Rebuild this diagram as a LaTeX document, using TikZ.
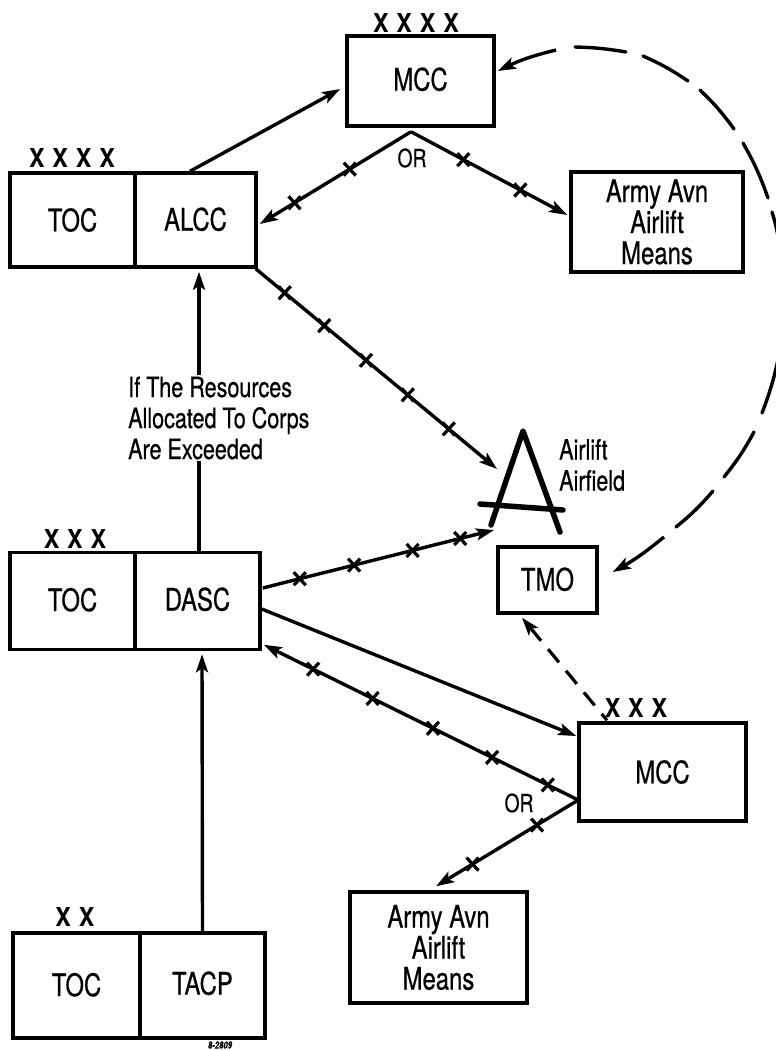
\documentclass[tikz,border=0pt]{standalone}
\usepackage{fontspec}
\setmainfont[FakeStretch=0.77,FakeBold=0.6]{TeX Gyre Heros}
\newfontfamily\xfont[FakeStretch=0.9,WordSpace=1.2]{TeX Gyre Heros}
\usetikzlibrary{arrows.meta,shapes.misc}
\tikzset{
  unit/.style={draw=black,line width=3.5pt,fill=white,inner sep=0pt,align=center,font=\fontsize{31}{31}\selectfont},
  conn/.style={line width=3.4pt,-{Stealth[length=18pt,width=12pt,inset=4pt]}},
  dashseg/.style={line width=3.4pt,line cap=round},
  xm/.style={cross out,draw=black,fill=white,line width=3.2pt,minimum width=12pt,minimum height=13pt,inner sep=0pt,outer sep=0pt,solid},
  rank/.style={font=\xfont\bfseries\fontsize{26}{26}\selectfont,inner sep=0pt},
  lab/.style={inner sep=0pt,align=left,font=\fontsize{28}{31}\selectfont},
  orlab/.style={inner sep=0pt,font=\fontsize{25}{25}\selectfont},
}
\begin{document}
\begin{tikzpicture}[x=1pt,y=-1pt]
\useasboundingbox (0,0) rectangle (776,1050);
% boxes
\node[unit,minimum width=147pt,minimum height=90pt] (mcca) at (420.5,81) {\raisebox{4pt}{MCC}};
\node[unit,minimum width=172pt,minimum height=100pt] (avna) at (657,222) {Army Avn\\Airlift\\Means};
\node[unit,minimum width=125pt,minimum height=94pt] (toca) at (72.5,220) {TOC};
\node[unit,minimum width=121pt,minimum height=94pt] (alcc) at (195.5,220) {\raisebox{2pt}{ALCC}};
\node[unit,minimum width=125pt,minimum height=97pt] (tocb) at (72.5,601) {\raisebox{3pt}{TOC}};
\node[unit,minimum width=125pt,minimum height=97pt] (dasc) at (197.5,601) {\raisebox{4pt}{DASC}};
\node[unit,minimum width=99pt,minimum height=66pt] (tmo) at (547.5,580) {\raisebox{2pt}{TMO}};
\node[unit,minimum width=167pt,minimum height=98pt] (mccb) at (662.5,772) {MCC};
\node[unit,minimum width=177pt,minimum height=111pt] (avnb) at (438.5,947.5) {Army Avn\\Airlift\\Means};
\node[unit,minimum width=127pt,minimum height=105pt] (tocc) at (76.5,985.5) {\raisebox{2pt}{TOC}};
\node[unit,minimum width=125pt,minimum height=105pt] (tacp) at (202.5,985.5) {\raisebox{5pt}{TACP}};
% rank marks
\node[rank] (ra) at (416,23) {X X X X};
\node[rank] (rb) at (72,158) {X X X X};
\node[rank] (rc) at (75,539) {X X X};
\node[rank] (rd) at (636,708) {X X X};
\node[rank] (re) at (75,917) {X X};
% airfield symbol
\coordinate (apex) at (523,431);
\coordinate (footl) at (491,525);
\coordinate (footr) at (560,532);
\coordinate (barl) at (480,504);
\coordinate (barr) at (563,510);
\draw[line width=5.5pt,line cap=round,line join=round] (footl) -- (apex) -- (footr);
\draw[line width=5.5pt,line cap=round] (barl) -- (barr);
\node[lab,anchor=west] (afl) at (559,465) {Airlift\\Airfield};
% solid connectors
\draw[conn] ([shift={(-5.5,0)}]alcc.north) -- ([shift={(-5,8)}]mcca.west);
\draw[conn] (tacp.north) -- ([shift={(4.5,3)}]dasc.south);
\draw[conn] ([shift={(1.5,0)}]dasc.north) -- ([shift={(3.5,3)}]alcc.south);
\node[lab,anchor=west,fill=white,inner ysep=2pt] (lim) at (128,418) {If The Resources\\Allocated To Corps\\Are Exceeded};
\draw[conn] ([shift={(0,8)}]dasc.east) -- ([shift={(-1,-36)}]mccb.west);
% barbed connectors
\coordinate (ora) at ([shift={(-9.5,4)}]mcca.south);
\draw[conn] (ora) -- node[xm,pos=.405]{} node[xm,pos=.77]{} ([shift={(2,4)}]alcc.east);
\draw[conn] (ora) -- node[xm,pos=.335]{} node[xm,pos=.70]{} ([shift={(-2,-7)}]avna.west);
\draw[conn] ([shift={(-2,0)}]alcc.south east) -- node[xm,pos=.12]{} node[xm,pos=.284]{} node[xm,pos=.457]{} node[xm,pos=.63]{} node[xm,pos=.80]{} ([shift={(-26,38)}]apex);
\draw[conn] ([shift={(1,-13)}]dasc.east) -- node[xm,pos=.16]{} node[xm,pos=.395]{} node[xm,pos=.648]{} node[xm,pos=.854]{} ([shift={(3,5)}]footl);
\coordinate (orb) at ([shift={(1,28)}]mccb.west);
\draw[conn] (orb) -- node[xm,pos=.097]{} node[xm,pos=.274]{} node[xm,pos=.462]{} node[xm,pos=.654]{} node[xm,pos=.843]{} ([shift={(2,-6.5)}]dasc.south east);
\draw[conn] (orb) -- node[xm,pos=.29]{} node[xm,pos=.743]{} ([shift={(-2.5,-4)}]avnb.north);
\node[orlab] (orta) at (412,158) {OR};
\node[orlab] (ortb) at (519,803) {OR};
% dashed TMO-MCC
\draw[line width=3.2pt,dash pattern=on 17pt off 11pt,{Stealth[length=18pt,width=12pt,inset=4pt]}-] ([shift={(-25.5,3)}]tmo.south) -- ([shift={(-55.5,-1)}]mccb.north);
% long dashed arc
\draw[conn] (556,50) to[bend right=6] ([shift={(2,-10)}]mcca.east);
\draw[dashseg] (575,47) to[bend left=4] (626,52);
\draw[dashseg] (643,56) to[bend left=5] (688,81);
\draw[dashseg] (700,90) to[bend left=5] (734,129);
\draw[dashseg] (743,143) to[bend left=5] (768,198);
\draw[dashseg] (772,212) to[bend left=3] (778,236);
\draw[dashseg] (778,360) to[bend left=4] (762,413);
\draw[dashseg] (754,432) to[bend left=5] (724,477);
\draw[dashseg] (713,491) to[bend left=5] (676,527);
\draw[conn] (664,537) to[bend left=5] ([shift={(14,-8)}]tmo.east);
% drawing number
\node[inner sep=0pt,font=\fontsize{10}{10}\bfseries\itshape] (num) at (220,1045) {8-2809};
\end{tikzpicture}
\end{document}
